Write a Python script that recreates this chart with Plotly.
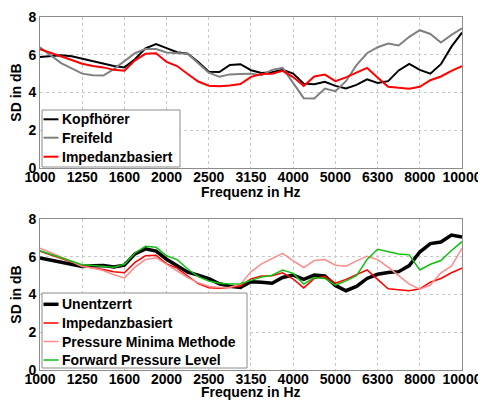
import plotly.graph_objects as go

freq = [1000, 1059, 1122, 1189, 1259, 1334, 1413, 1496, 1585, 1679, 1778, 1884,
        1995, 2113, 2239, 2371, 2512, 2661, 2818, 2985, 3162, 3350, 3548, 3758,
        3981, 4217, 4467, 4732, 5012, 5309, 5623, 5957, 6310, 6683, 7079, 7499,
        7943, 8414, 8913, 9441, 10000]

kopfhoerer = [5.88, 5.92, 5.97, 5.92, 5.79, 5.66, 5.53, 5.40, 5.33, 5.76, 6.34, 6.56,
              6.35, 6.13, 6.05, 5.62, 5.10, 5.08, 5.46, 5.50, 5.18, 5.03, 5.07, 5.20,
              5.00, 4.47, 4.44, 4.57, 4.35, 4.22, 4.40, 4.70, 4.50, 4.60, 5.17, 5.52,
              5.20, 5.00, 5.50, 6.43, 7.18]

freifeld = [6.40, 5.98, 5.56, 5.28, 5.00, 4.92, 4.90, 5.24, 5.65, 6.08, 6.31, 6.30,
            6.12, 6.08, 6.05, 5.55, 5.05, 4.83, 4.96, 4.98, 5.00, 4.92, 5.20, 5.30,
            4.50, 3.70, 3.68, 4.21, 4.07, 4.60, 5.45, 6.08, 6.40, 6.59, 6.49, 6.95,
            7.30, 7.10, 6.65, 7.05, 7.40]

impedanz = [6.30, 6.12, 5.92, 5.72, 5.52, 5.40, 5.33, 5.20, 5.15, 5.70, 6.05, 6.08,
            5.62, 5.40, 4.98, 4.58, 4.36, 4.33, 4.37, 4.45, 4.83, 4.98, 5.00, 5.15,
            4.82, 4.35, 4.85, 4.95, 4.60, 4.80, 5.05, 5.30, 4.80, 4.30, 4.25, 4.20,
            4.30, 4.65, 4.85, 5.15, 5.40]

unentzerrt = [5.93, 5.82, 5.70, 5.58, 5.48, 5.52, 5.53, 5.46, 5.55, 6.15, 6.42, 6.30,
              5.87, 5.52, 5.18, 5.03, 4.84, 4.57, 4.44, 4.38, 4.68, 4.65, 4.60, 4.90,
              5.03, 4.80, 5.03, 4.98, 4.48, 4.20, 4.43, 4.85, 5.07, 5.16, 5.21, 5.53,
              6.25, 6.70, 6.78, 7.15, 7.05]

pressure_minima = [6.45, 6.22, 5.98, 5.75, 5.48, 5.40, 5.27, 5.05, 4.88, 5.45, 5.85, 5.95,
                   5.60, 5.25, 4.90, 4.62, 4.42, 4.37, 4.38, 4.55, 5.20, 5.62, 5.88, 6.18,
                   5.78, 5.43, 5.80, 5.85, 5.55, 5.50, 5.78, 6.03, 5.85, 5.45, 5.00, 4.55,
                   4.28, 4.50, 5.15, 5.50, 6.45]

forward_pressure = [6.32, 6.14, 5.96, 5.78, 5.58, 5.53, 5.48, 5.44, 5.60, 6.20, 6.55, 6.50,
                    6.05, 5.85, 5.35, 4.95, 4.72, 4.60, 4.56, 4.57, 4.75, 4.93, 5.02, 5.30,
                    5.12, 4.55, 4.90, 4.85, 4.50, 4.72, 5.00, 5.85, 6.40, 6.28, 6.15, 6.10,
                    5.30, 5.60, 5.80, 6.33, 6.80]

tick_vals = [1000, 1259, 1585, 1995, 2512, 3162, 3981, 5012, 6310, 7943, 10000]
tick_text = ["1000", "1250", "1600", "2000", "2500", "3150", "4000", "5000", "6300", "8000", "10000"]
y_ticks = [0, 2, 4, 6, 8]
x_title = "Frequenz in Hz"
y_title = "SD in dB"

FONT = dict(family="Liberation Sans, Arial, sans-serif", size=14, color="black", weight="bold")

# The page body keeps its default 8px margin, so the figure is sized to the
# visible window and all page-pixel positions are shifted by that offset.
OFF = 8
W, H = 486 - OFF, 401 - OFF
ML, MR, MT, MB = 32, 24, 9, 31
PW, PH = W - ML - MR, H - MT - MB


def px(xp):
    return (xp - OFF - ML) / PW


def py(yp):
    return (H - MB - (yp - OFF)) / PH


fig = go.Figure()

top = [("Kopfhörer", kopfhoerer, "#000000", 2),
       ("Freifeld", freifeld, "#808080", 2),
       ("Impedanzbasiert", impedanz, "#ff0000", 2)]
for name, vals, col, w in top:
    fig.add_trace(go.Scatter(x=freq, y=vals, mode="lines", name=name,
                             line=dict(color=col, width=w),
                             xaxis="x", yaxis="y", showlegend=False))

bottom = [("Unentzerrt", unentzerrt, "#000000", 3.5),
          ("Impedanzbasiert", impedanz, "#ff0000", 1.5),
          ("Pressure Minima Methode", pressure_minima, "#ff8a8a", 1.5),
          ("Forward Pressure Level", forward_pressure, "#10c010", 1.5)]
for name, vals, col, w in bottom:
    fig.add_trace(go.Scatter(x=freq, y=vals, mode="lines", name=name,
                             line=dict(color=col, width=w),
                             xaxis="x2", yaxis="y2", showlegend=False))

xcommon = dict(type="log", range=[3, 4], tickvals=tick_vals, ticktext=tick_text,
               showgrid=True, gridcolor="#c8c8c8", griddash="dot", gridwidth=1,
               showline=True, linecolor="#8c8c8c", linewidth=1, mirror=True,
               ticks="", tickfont=FONT, zeroline=False, ticklabelstandoff=-4,
               automargin=False)
ycommon = dict(range=[0, 8], tickvals=y_ticks,
               showgrid=True, gridcolor="#c8c8c8", griddash="dot", gridwidth=1,
               showline=True, linecolor="#8c8c8c", linewidth=1, mirror=True,
               ticks="", tickfont=FONT, zeroline=False, automargin=False,
               title=dict(text=y_title, font=FONT, standoff=6))

shapes = []
annotations = []


def add_legend(box, entries):
    x0, y0, x1, y1 = box
    shapes.append(dict(type="rect", xref="paper", yref="paper",
                       x0=px(x0), x1=px(x1), y0=py(y1), y1=py(y0),
                       fillcolor="white", line=dict(color="#8c8c8c", width=1), layer="above"))
    for name, col, w, yc in entries:
        shapes.append(dict(type="line", xref="paper", yref="paper",
                           x0=px(x0 + 1.5), x1=px(x0 + 16.5), y0=py(yc), y1=py(yc),
                           line=dict(color=col, width=w), layer="above"))
        annotations.append(dict(text=name, xref="paper", yref="paper",
                                x=px(x0 + 18), y=py(yc), xanchor="left", yanchor="middle",
                                showarrow=False, font=FONT))


add_legend((42, 110, 180, 167),
           [(top[0][0], top[0][2], top[0][3], 119.3),
            (top[1][0], top[1][2], top[1][3], 137.7),
            (top[2][0], top[2][2], top[2][3], 156.7)])
add_legend((42, 293, 247, 368),
           [(bottom[0][0], bottom[0][2], bottom[0][3], 304.3),
            (bottom[1][0], bottom[1][2], bottom[1][3], 323.0),
            (bottom[2][0], bottom[2][2], bottom[2][3], 341.5),
            (bottom[3][0], bottom[3][2], bottom[3][3], 360.0)])

# x-axis titles placed just below the tick labels
for ycen in (192, 392):
    annotations.append(dict(text=x_title, xref="paper", yref="paper",
                            x=0.5, y=py(ycen), xanchor="center", yanchor="middle",
                            showarrow=False, font=FONT))

fig.update_layout(
    width=W, height=H,
    margin=dict(l=ML, r=MR, t=MT, b=MB, autoexpand=False),
    paper_bgcolor="white", plot_bgcolor="white",
    xaxis=dict(domain=[0, 1], anchor="y", **xcommon),
    yaxis=dict(domain=[py(168), 1.0], anchor="x", **ycommon),
    xaxis2=dict(domain=[0, 1], anchor="y2", **xcommon),
    yaxis2=dict(domain=[0.0, py(219)], anchor="x2", **ycommon),
    shapes=shapes, annotations=annotations,
    showlegend=False,
)

fig.write_html("out.html")
